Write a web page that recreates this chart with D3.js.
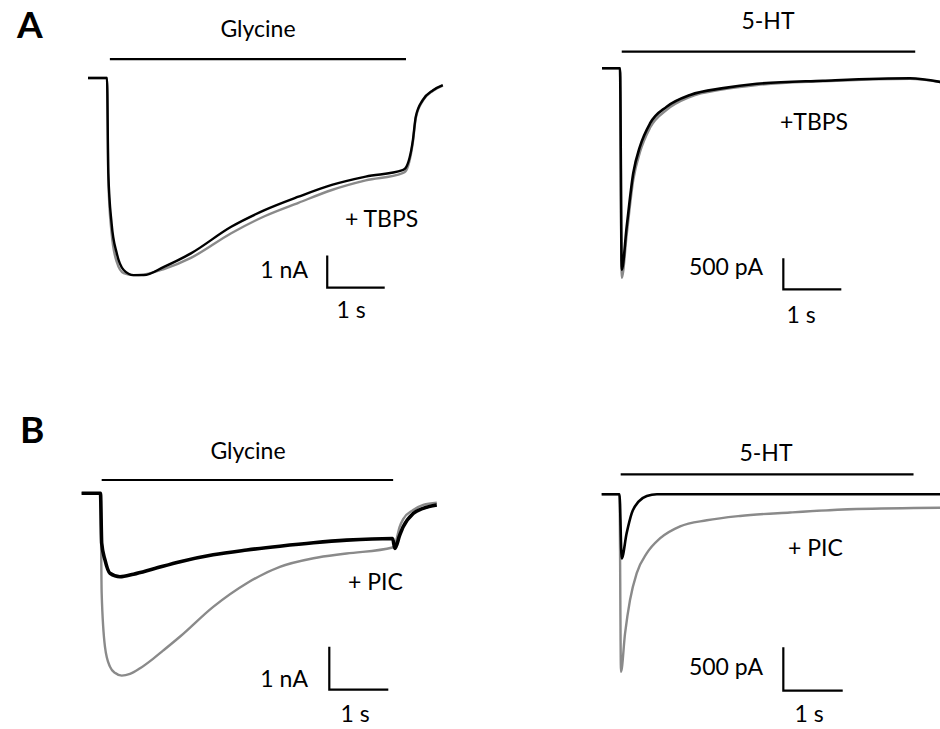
<!DOCTYPE html>
<html>
<head>
<meta charset="utf-8">
<script src="https://cdn.jsdelivr.net/npm/d3@7"></script>
<style>
  body { margin: 0; background: #fff; }
  svg { display: block; font-family: Lato, 'Open Sans', sans-serif; }
  .label { font-size: 23px; fill: #000; }
  .panel-letter { font-size: 37px; font-weight: 700; fill: #000; }
</style>
</head>
<body>
<div class="chart"></div>
<script>
// traces: time in s, current in nA (control = grey, drug = black)
const timeGlyA = [-0.33, 0, 0.023, 0.08, 0.17, 0.29, 0.46, 0.64, 0.99, 1.46, 2.16, 2.74, 3.33, 3.91, 4.5, 5.14, 5.19, 5.32, 5.37, 5.49, 5.67, 5.84]
const glyCtrlA = [0, 0, -3.2, -4.85, -5.75, -6.1, -6.16, -6.14, -5.97, -5.62, -4.85, -4.32, -3.9, -3.5, -3.2, -2.97, -2.92, -2.0, -1.26, -0.72, -0.4, -0.24]
const glyTbps = [0, 0, -2.98, -4.54, -5.48, -6.0, -6.16, -6.16, -5.9, -5.48, -4.65, -4.13, -3.71, -3.34, -3.08, -2.88, -2.82, -1.94, -1.21, -0.69, -0.38, -0.22]

const timeHtA = [-0.31, 0, 0.03, 0.116, 0.229, 0.345, 0.517, 0.805, 1.21, 1.78, 2.36, 3.5, 5.0, 5.52]
const htCtrlA = [0, 0, -3.38, -2.68, -1.8, -1.35, -0.96, -0.67, -0.46, -0.34, -0.27, -0.21, -0.17, -0.22]
const htTbps = [0, 0, -3.25, -2.55, -1.69, -1.26, -0.89, -0.62, -0.43, -0.32, -0.25, -0.2, -0.16, -0.22]

const timeGlyCtrlB = [-0.32, 0, 0.02, 0.076, 0.16, 0.25, 0.36, 0.5, 0.67, 0.89, 1.06, 1.35, 1.91, 2.48, 3.04, 3.61, 4.17, 4.95, 4.99, 5.07, 5.13, 5.3, 5.47, 5.7]
const glyCtrlB = [0, 0, -2.33, -3.57, -4.03, -4.18, -4.24, -4.2, -4.07, -3.85, -3.66, -3.33, -2.64, -2.09, -1.71, -1.51, -1.4, -1.26, -1.2, -0.78, -0.6, -0.39, -0.27, -0.22]
const timeGlyPic = [-0.32, 0, 0.02, 0.076, 0.16, 0.33, 0.56, 0.89, 1.35, 1.91, 2.48, 3.04, 3.61, 4.17, 4.95, 4.99, 5.07, 5.13, 5.3, 5.47, 5.7]
const glyPic = [0, 0, -1.16, -1.55, -1.86, -1.94, -1.88, -1.76, -1.59, -1.43, -1.32, -1.23, -1.15, -1.09, -1.05, -1.28, -0.98, -0.78, -0.47, -0.35, -0.27]

const timeHtCtrlB = [-0.3, 0, 0.025, 0.093, 0.177, 0.29, 0.46, 0.68, 1.02, 1.47, 2.03, 2.87, 3.99, 5.4]
const htCtrlB = [0, 0, -2.05, -1.61, -1.22, -0.91, -0.68, -0.51, -0.37, -0.3, -0.25, -0.21, -0.17, -0.155]
const timeHtPic = [-0.3, 0, 0.037, 0.12, 0.205, 0.32, 0.46, 0.63, 5.4]
const htPic = [0, 0, -0.74, -0.45, -0.22, -0.085, -0.02, 0, 0]

// application bars [start, end] in s
const barGlyA = [0.05, 5.2]
const barHtA = [0.03, 5.09]
const barGlyB = [0.02, 4.96]
const barHtB = [0.02, 4.95]

const GREY = '#8a8a8a'
const BLACK = '#000'

const panels = [
  {
    x0: 107, sx: 57.5, y0: 78, sy: 32,
    ctrl: { t: timeGlyA, i: glyCtrlA }, drug: { t: timeGlyA, i: glyTbps, w: 2.4 },
    bar: barGlyA, barLevel: 0.59,
    agonist: 'Glycine', agonistPos: [258, 37],
    drugLabel: '+ TBPS', drugPos: [345, 227],
    scaleAt: [3.83, -6.55], amp: 1, ampLabel: '1 nA',
    ampPos: [308, 278], secPos: [351, 318]
  },
  {
    x0: 620, sx: 58, y0: 68.3, sy: 62,
    ctrl: { t: timeHtA, i: htCtrlA }, drug: { t: timeHtA, i: htTbps, w: 2.6 },
    bar: barHtA, barLevel: 0.268,
    agonist: '5-HT', agonistPos: [768, 29],
    drugLabel: '+TBPS', drugPos: [780, 130],
    scaleAt: [2.816, -3.565], amp: 0.5, ampLabel: '500 pA',
    ampPos: [763, 275], secPos: [801, 323]
  },
  {
    x0: 100.5, sx: 59, y0: 493.3, sy: 43,
    ctrl: { t: timeGlyCtrlB, i: glyCtrlB }, drug: { t: timeGlyPic, i: glyPic, w: 3.6 },
    bar: barGlyB, barLevel: 0.309,
    agonist: 'Glycine', agonistPos: [248, 459],
    drugLabel: '+ PIC', drugPos: [348, 590],
    scaleAt: [3.878, -4.567], amp: 1, ampLabel: '1 nA',
    ampPos: [308, 687], secPos: [355, 722]
  },
  {
    x0: 619.5, sx: 59.4, y0: 494.3, sy: 86.6,
    ctrl: { t: timeHtCtrlB, i: htCtrlB }, drug: { t: timeHtPic, i: htPic, w: 2.6 },
    bar: barHtB, barLevel: 0.231,
    agonist: '5-HT', agonistPos: [766, 461],
    drugLabel: '+ PIC', drugPos: [788, 556],
    scaleAt: [2.758, -2.266], amp: 0.5, ampLabel: '500 pA',
    ampPos: [763, 675], secPos: [809, 722]
  }
]

const svg = d3.select('.chart').append('svg')
  .attr('width', 940)
  .attr('height', 729)

svg.append('text').attr('class', 'panel-letter').attr('x', 17).attr('y', 38).text('A')
svg.append('text').attr('class', 'panel-letter').attr('x', 20).attr('y', 443).text('B')

panels.forEach(p => {
  // 1 s = sx px, 1 nA = sy px
  const x = d3.scaleLinear().domain([0, 1]).range([p.x0, p.x0 + p.sx])
  const y = d3.scaleLinear().domain([0, -1]).range([p.y0, p.y0 + p.sy])
  const g = svg.append('g')

  const line = d3.line()
    .x(d => x(d[0]))
    .y(d => y(d[1]))
    .curve(d3.curveMonotoneX)

  g.append('path')
    .attr('d', line(d3.zip(p.ctrl.t, p.ctrl.i)))
    .attr('fill', 'none')
    .attr('stroke', GREY)
    .attr('stroke-width', 2.4)
    .attr('stroke-linejoin', 'round')

  g.append('path')
    .attr('d', line(d3.zip(p.drug.t, p.drug.i)))
    .attr('fill', 'none')
    .attr('stroke', BLACK)
    .attr('stroke-width', p.drug.w)
    .attr('stroke-linejoin', 'round')

  // agonist application bar
  g.append('line')
    .attr('x1', x(p.bar[0])).attr('x2', x(p.bar[1]))
    .attr('y1', y(p.barLevel)).attr('y2', y(p.barLevel))
    .attr('stroke', BLACK)
    .attr('stroke-width', 2.2)

  g.append('text').attr('class', 'label')
    .attr('x', p.agonistPos[0]).attr('y', p.agonistPos[1])
    .attr('text-anchor', 'middle')
    .text(p.agonist)

  g.append('text').attr('class', 'label')
    .attr('x', p.drugPos[0]).attr('y', p.drugPos[1])
    .text(p.drugLabel)

  // scale bar
  const [st, si] = p.scaleAt
  g.append('path')
    .attr('d', d3.line()([[x(st), y(si + p.amp)], [x(st), y(si)], [x(st + 1), y(si)]]))
    .attr('fill', 'none')
    .attr('stroke', BLACK)
    .attr('stroke-width', 2.2)

  g.append('text').attr('class', 'label')
    .attr('x', p.ampPos[0]).attr('y', p.ampPos[1])
    .attr('text-anchor', 'end')
    .text(p.ampLabel)

  g.append('text').attr('class', 'label')
    .attr('x', p.secPos[0]).attr('y', p.secPos[1])
    .attr('text-anchor', 'middle')
    .text('1 s')
})
</script>
</body>
</html>
